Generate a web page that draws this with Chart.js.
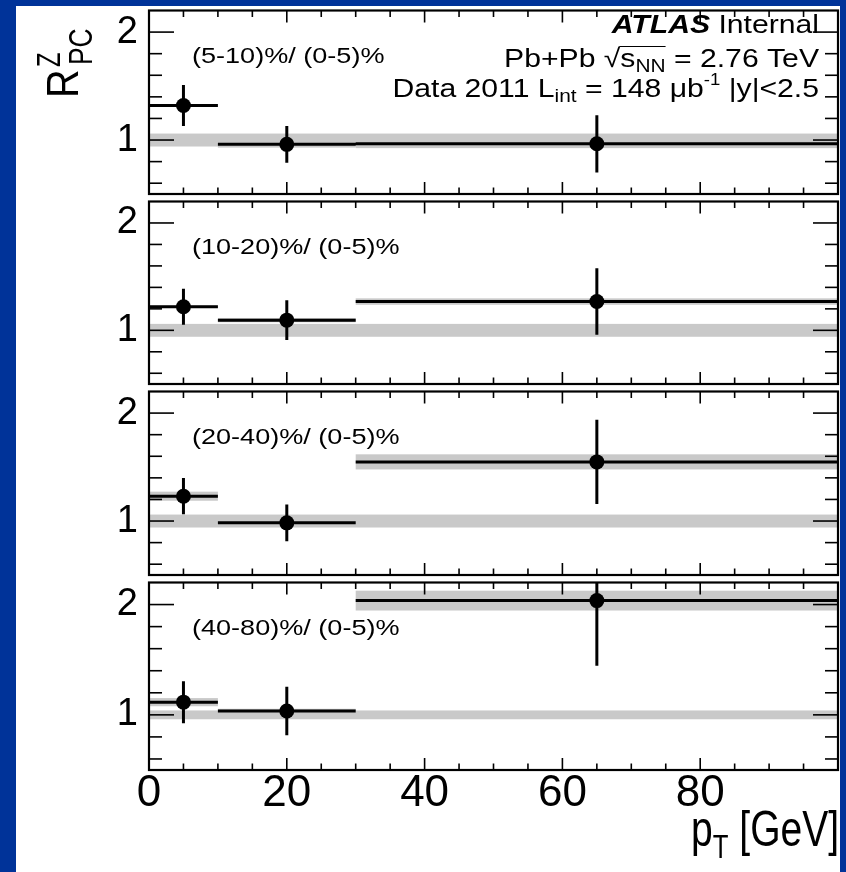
<!DOCTYPE html>
<html><head><meta charset="utf-8">
<script src="https://cdn.jsdelivr.net/npm/chart.js@4.4.1/dist/chart.umd.min.js"></script>
<style>
html,body{margin:0;padding:0;background:#003399;width:846px;height:872px;overflow:hidden;}
#paper{position:absolute;left:16px;top:6px;width:824px;height:866px;background:#fff;}
canvas{position:absolute;left:0;}
</style></head><body>
<div id="paper"></div>
<canvas id="c0"></canvas><canvas id="c1"></canvas><canvas id="c2"></canvas><canvas id="c3"></canvas>
<script>
// ---------- data ----------
const binLow = [0, 10, 30];
const binHigh = [10, 30, 100];
const binCenter = [5, 20, 65];
const panelLabels = ['(5-10)%/ (0-5)%', '(10-20)%/ (0-5)%', '(20-40)%/ (0-5)%', '(40-80)%/ (0-5)%'];
const ratio5to10 = [1.32, 0.96, 0.965];
const stat5to10 = [0.19, 0.17, 0.265];
const sys5to10 = [0.01, 0.03, 0.04];
const ratio10to20 = [1.22, 1.095, 1.268];
const stat10to20 = [0.167, 0.186, 0.31];
const sys10to20 = [0.01, 0.02, 0.03];
const ratio20to40 = [1.23, 0.983, 1.548];
const stat20to40 = [0.168, 0.17, 0.39];
const sys20to40 = [0.042, 0.02, 0.07];
const ratio40to80 = [1.115, 1.035, 2.036];
const stat40to80 = [0.19, 0.22, 0.59];
const sys40to80 = [0.037, 0.02, 0.09];
const normUnc = [0.06, 0.06, 0.06, 0.04];
const xTickLabels = [0, 20, 40, 60, 80];
const xMajorTicks = [0, 20, 40, 60, 80, 100];
const xMinorTicks = [5, 10, 15, 25, 30, 35, 45, 50, 55, 65, 70, 75, 85, 90, 95];
const yTickLabels = [1, 2];
const yMinorTicks = [0.6, 0.8, 1.2, 1.4, 1.6, 1.8];

const ratios = [ratio5to10, ratio10to20, ratio20to40, ratio40to80];
const stats = [stat5to10, stat10to20, stat20to40, stat40to80];
const syss = [sys5to10, sys10to20, sys20to40, sys40to80];

// ---------- layout ----------
const FONT = '"Liberation Sans", Arial, Helvetica, sans-serif';
const panelTop = [7, 198, 388, 579];
const plotBottom = 770;
const PAD = 4;

function drawRich(ctx, segs, x, y, align, sx) {
  let total = 0;
  segs.forEach(s => { ctx.font = s.font; s.w = ctx.measureText(s.t).width * sx; total += s.w; });
  let cx = align === 'right' ? x - total : (align === 'center' ? x - total / 2 : x);
  const pos = [];
  segs.forEach(s => {
    ctx.save(); ctx.font = s.font; ctx.textAlign = 'left'; ctx.textBaseline = 'alphabetic';
    ctx.translate(cx, y + (s.dy || 0)); ctx.scale(sx, 1); ctx.fillText(s.t, 0, 0); ctx.restore();
    pos.push({x: cx, w: s.w}); cx += s.w;
  });
  return pos;
}

function noPad(s) { s.paddingTop = 0; s.paddingBottom = 0; s.paddingLeft = 0; s.paddingRight = 0; }

function makeChart(i) {
  const top = panelTop[i];
  const bottom = i < 3 ? panelTop[i + 1] : plotBottom;
  const h = bottom - top;
  const isLast = i === 3;
  const cTop = top - PAD;
  const cH = isLast ? 872 - cTop : h + 2 * PAD;
  const canvas = document.getElementById('c' + i);
  canvas.width = 846; canvas.height = cH; canvas.style.top = cTop + 'px';
  canvas.style.width = '846px'; canvas.style.height = cH + 'px';

  const r = ratios[i], st = stats[i], sy = syss[i];
  const hLines = [];
  binLow.forEach((lo, k) => { hLines.push({x: lo, y: r[k]}, {x: binHigh[k], y: r[k]}, {x: binHigh[k], y: null}); });
  const vLines = [];
  binCenter.forEach((c, k) => { vLines.push({x: c, y: r[k] - st[k]}, {x: c, y: r[k] + st[k]}, {x: c, y: null}); });
  const pts = binCenter.map((c, k) => ({x: c, y: r[k]}));

  const bandPlugin = {
    id: 'bands',
    beforeDatasetsDraw(chart) {
      const {ctx, chartArea: a, scales: {x, y}} = chart;
      ctx.save();
      ctx.beginPath(); ctx.rect(a.left, a.top, a.width, a.height); ctx.clip();
      ctx.fillStyle = '#c9c9c9';
      const n1 = y.getPixelForValue(1 + normUnc[i]), n2 = y.getPixelForValue(1 - normUnc[i]);
      const x0 = x.getPixelForValue(0), x1 = x.getPixelForValue(100);
      ctx.fillRect(x0, n1, x1 - x0, n2 - n1);
      binLow.forEach((lo, k) => {
        const xl = x.getPixelForValue(lo), xr = x.getPixelForValue(binHigh[k]);
        const yt = y.getPixelForValue(r[k] + sy[k]), yb = y.getPixelForValue(r[k] - sy[k]);
        ctx.fillRect(xl, yt, xr - xl, yb - yt);
      });
      ctx.restore();
    }
  };

  const framePlugin = {
    id: 'frame',
    afterDatasetsDraw(chart) {
      const {ctx, chartArea: a, scales: {x, y}} = chart;
      ctx.save();
      ctx.strokeStyle = '#000'; ctx.lineWidth = 1.6; ctx.lineCap = 'butt';
      const line = (x1, y1, x2, y2) => { ctx.beginPath(); ctx.moveTo(x1, y1); ctx.lineTo(x2, y2); ctx.stroke(); };
      xMajorTicks.forEach(v => { const p = x.getPixelForValue(v); line(p, a.bottom, p, a.bottom - 12); line(p, a.top, p, a.top + 12); });
      xMinorTicks.forEach(v => { const p = x.getPixelForValue(v); line(p, a.bottom, p, a.bottom - 6.5); line(p, a.top, p, a.top + 6.5); });
      yTickLabels.forEach(v => { const p = y.getPixelForValue(v); line(a.left, p, a.left + 25, p); line(a.right, p, a.right - 25, p); });
      yMinorTicks.forEach(v => { const p = y.getPixelForValue(v); line(a.left, p, a.left + 13, p); line(a.right, p, a.right - 13, p); });
      ctx.lineWidth = 2.2;
      ctx.strokeRect(a.left, a.top, a.width, a.height);
      ctx.restore();
    }
  };

  const textPlugin = {
    id: 'texts',
    afterDraw(chart) {
      const ctx = chart.ctx;
      ctx.save();
      ctx.translate(0, -cTop);
      ctx.fillStyle = '#000';
      drawRich(ctx, [{t: panelLabels[i], font: '22px ' + FONT}], 192, top + 56, 'left', 1.23);
      if (i === 0) {
        drawRich(ctx, [{t: 'ATLAS', font: 'italic bold 26px ' + FONT}, {t: ' Internal', font: '26px ' + FONT}], 819, 33, 'right', 1.16);
        const p = drawRich(ctx, [
          {t: 'Pb+Pb ', font: '26px ' + FONT},
          {t: '\u221A', font: '26px ' + FONT},
          {t: 's', font: '26px ' + FONT},
          {t: 'NN', font: '18px ' + FONT, dy: 5},
          {t: ' = 2.76 TeV', font: '26px ' + FONT}
        ], 819, 67, 'right', 1.16);
        ctx.lineWidth = 1.2; ctx.strokeStyle = '#000';
        ctx.beginPath(); ctx.moveTo(p[1].x + p[1].w - 1, 46.5); ctx.lineTo(p[3].x + p[3].w, 46.5); ctx.stroke();
        drawRich(ctx, [
          {t: 'Data 2011 L', font: '26px ' + FONT},
          {t: 'int', font: '18px ' + FONT, dy: 5},
          {t: ' = 148 ', font: '26px ' + FONT},
          {t: '\u03BC', font: '26px ' + FONT},
          {t: 'b', font: '26px ' + FONT},
          {t: '-1', font: '16px ' + FONT, dy: -12},
          {t: ' |y|<2.5', font: '26px ' + FONT}
        ], 819, 97, 'right', 1.16);
        ctx.save();
        ctx.translate(78, 98); ctx.rotate(-Math.PI / 2);
        ctx.save(); ctx.scale(0.9, 1); ctx.font = '44px ' + FONT; ctx.fillText('R', 0, 0); ctx.restore();
        ctx.save(); ctx.translate(31, -18); ctx.scale(0.72, 1); ctx.font = '33px ' + FONT; ctx.fillText('Z', 0, 0); ctx.restore();
        ctx.save(); ctx.translate(33, 14); ctx.scale(0.8, 1); ctx.font = '33px ' + FONT; ctx.fillText('PC', 0, 0); ctx.restore();
        ctx.restore();
      }
      if (isLast) {
        drawRich(ctx, [
          {t: 'p', font: '50px ' + FONT},
          {t: 'T', font: '33px ' + FONT, dy: 12},
          {t: ' [GeV]', font: '50px ' + FONT}
        ], 839, 846, 'right', 0.78);
      }
      ctx.restore();
    }
  };

  new Chart(canvas, {
    type: 'scatter',
    data: {datasets: [
      {type: 'line', data: hLines, borderColor: '#000', borderWidth: 3, pointRadius: 0, spanGaps: false, clip: 0, tension: 0},
      {type: 'line', data: vLines, borderColor: '#000', borderWidth: 3, pointRadius: 0, spanGaps: false, clip: 0, tension: 0},
      {type: 'scatter', data: pts, pointRadius: 7.5, pointBackgroundColor: '#000', pointBorderWidth: 0, clip: 0}
    ]},
    options: {
      responsive: false, animation: false, devicePixelRatio: 1,
      layout: {padding: {left: 0, right: 8, top: PAD, bottom: isLast ? 0 : PAD}},
      plugins: {legend: {display: false}, tooltip: {enabled: false}, title: {display: false}},
      events: [],
      scales: {
        x: {
          type: 'linear', min: 0, max: 100, display: isLast,
          grid: {display: false}, border: {display: false},
          afterBuildTicks: s => { s.ticks = xTickLabels.map(v => ({value: v})); },
          afterFit: s => { s.height = cH - PAD - h; noPad(s); },
          ticks: {font: {family: FONT, size: 44, lineHeight: 1}, color: '#000', padding: -6, maxRotation: 0, autoSkip: false}
        },
        y: {
          type: 'linear', min: 0.5, max: 2.2,
          grid: {display: false}, border: {display: false},
          afterBuildTicks: s => { s.ticks = yTickLabels.map(v => ({value: v})); },
          afterFit: s => { s.width = 149; noPad(s); },
          ticks: {font: {family: FONT, size: 38}, color: '#000', padding: 3}
        }
      }
    },
    plugins: [bandPlugin, framePlugin, textPlugin]
  });
}
[0, 1, 2, 3].forEach(makeChart);
</script>
</body></html>
